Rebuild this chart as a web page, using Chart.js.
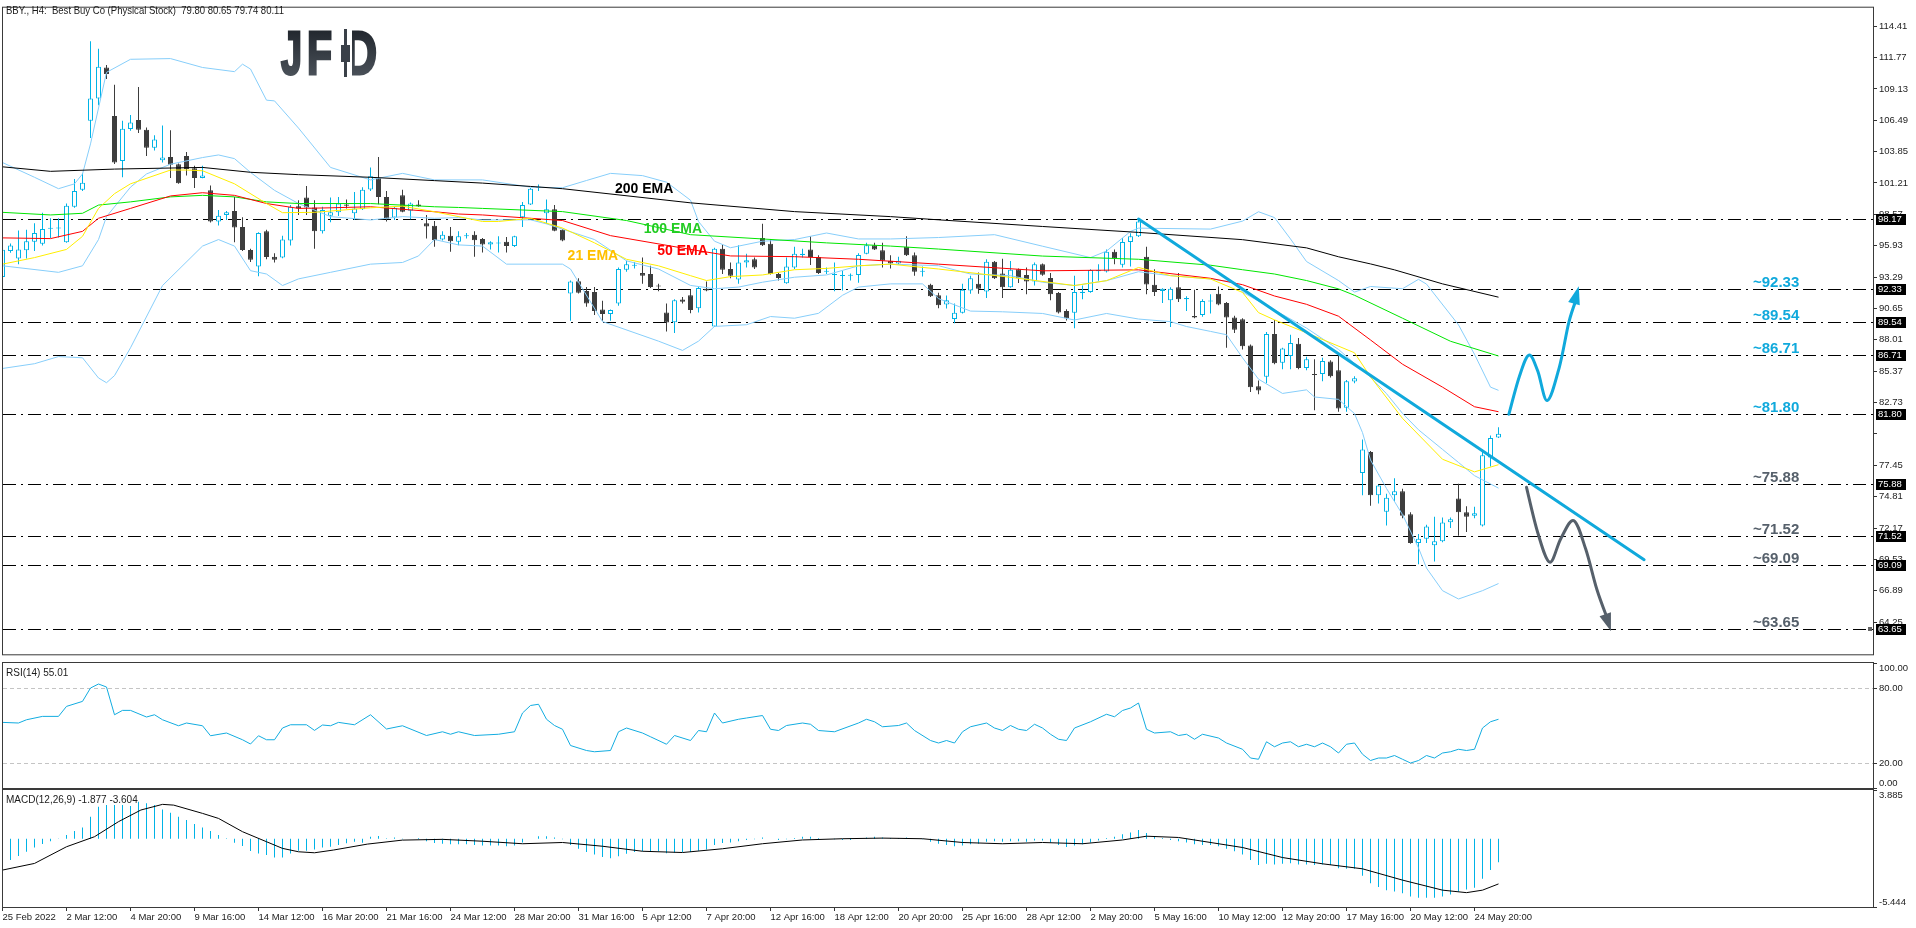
<!DOCTYPE html>
<html><head><meta charset="utf-8">
<script src="https://cdn.jsdelivr.net/npm/chart.js@4.4.1/dist/chart.umd.min.js"></script>
<style>
html,body{margin:0;padding:0;background:#fff;}
body{width:1916px;height:928px;position:relative;overflow:hidden;}
.p{position:absolute;left:0;width:1916px;}
canvas{display:block;}
</style></head><body>
<div class="p" style="top:0;height:662px"><canvas id="cMain"></canvas></div>
<div class="p" style="top:662px;height:127px"><canvas id="cRsi"></canvas></div>
<div class="p" style="top:789px;height:139px"><canvas id="cMacd"></canvas></div>
<script>
const FONT = '"Liberation Sans", Arial, sans-serif';
Chart.defaults.font.family = FONT;
Chart.defaults.animation = false;

// ---------- data ----------
const headerText = 'BBY., H4:  Best Buy Co (Physical Stock)  79.80 80.65 79.74 80.11';
const rsiTitle = 'RSI(14) 55.01';
const macdTitle = 'MACD(12,26,9) -1.877 -3.604';

const xLabels = ['25 Feb 2022','2 Mar 12:00','4 Mar 20:00','9 Mar 16:00','14 Mar 12:00','16 Mar 20:00','21 Mar 16:00','24 Mar 12:00','28 Mar 20:00','31 Mar 16:00','5 Apr 12:00','7 Apr 20:00','12 Apr 16:00','18 Apr 12:00','20 Apr 20:00','25 Apr 16:00','28 Apr 12:00','2 May 20:00','5 May 16:00','10 May 12:00','12 May 20:00','17 May 16:00','20 May 12:00','24 May 20:00'];
const xLabelBars = [0,8,16,24,32,40,48,56,64,72,80,88,96,104,112,120,128,136,144,152,160,168,176,184];

const opens = [
93.3,95.48,94.85,95.54,96.26,96.09,97.36,97.38,96.23,99.21,
100.64,106.44,108.31,110.93,106.85,103.07,105.75,106.52,105.69,104.17,
103.13,103.40,102.79,103.48,102.46,101.64,100.59,97.97,98.52,98.85,
97.50,95.57,94.19,97.14,95.01,94.93,96.37,99.26,99.98,99.15,
97.14,98.46,98.74,99.40,98.66,99.01,100.67,101.61,100.04,98.30,
100.17,98.88,99.40,97.83,97.61,96.45,96.78,96.26,96.72,96.86,
96.50,96.04,96.12,96.26,95.90,98.33,99.40,100.81,98.66,98.99,
97.28,91.90,92.95,92.12,92.03,90.57,90.19,91.07,93.91,94.24,
93.64,93.55,92.59,90.32,89.50,91.40,91.76,90.66,92.31,89.14,
95.68,93.97,93.08,94.52,94.79,96.59,96.09,93.55,92.78,94.10,
95.15,95.62,94.99,93.75,93.47,93.39,93.40,93.47,95.26,95.98,
95.54,94.66,94.44,95.84,95.13,93.75,92.64,91.76,90.98,89.77,
90.29,92.17,92.72,92.08,94.59,93.60,92.44,93.96,93.46,92.91,
94.37,93.21,91.95,90.43,90.29,91.95,92.03,93.79,93.77,95.42,
94.32,96.25,96.72,95.01,92.64,92.11,91.34,92.44,91.42,90.01,
90.10,91.23,91.89,91.12,89.88,89.74,87.53,84.11,84.91,88.50,
86.09,86.65,87.67,85.63,85.10,85.13,86.18,85.46,82.29,84.50,
76.80,78.57,74.93,73.55,74.93,75.26,73.33,70.92,71.26,70.73,
71.06,72.66,74.65,73.49,73.21,72.39,78.10,79.80];
const highs = [
95.7,96.12,97.22,97.28,97.83,98.71,98.24,98.24,99.48,101.55,
102.02,113.14,112.51,111.13,109.47,106.44,106.93,109.28,105.89,105.22,
106.05,105.64,102.85,103.82,102.66,102.66,101.00,98.93,98.85,100.04,
98.32,95.67,97.06,97.28,95.29,96.78,99.35,99.76,100.95,99.76,
99.21,99.98,100.04,99.82,100.45,100.86,102.52,103.40,100.53,99.21,
100.64,99.57,99.76,98.52,98.02,97.14,97.50,97.14,97.00,97.14,
96.59,96.31,96.73,96.67,96.78,99.62,100.78,101.09,99.82,99.35,
97.33,93.00,93.19,92.45,92.45,91.29,90.57,94.10,94.66,94.57,
94.93,94.24,92.72,91.07,91.43,91.62,92.23,92.45,92.92,95.76,
96.04,94.52,95.98,95.26,94.93,97.77,96.50,93.64,94.93,95.84,
95.68,96.73,95.13,94.10,94.52,93.83,93.60,95.29,96.17,96.17,
96.17,95.13,95.01,96.73,95.35,94.19,92.72,91.98,91.75,91.06,
92.72,93.41,93.68,94.79,94.65,94.84,94.65,94.01,94.10,94.51,
94.43,93.63,92.03,90.59,93.41,92.58,93.96,94.37,95.62,95.62,
96.58,96.99,98.24,95.84,93.96,92.36,92.44,93.63,91.67,92.22,
91.42,91.84,92.50,91.20,90.04,89.82,87.61,84.58,88.66,89.68,
87.34,88.44,88.17,86.59,86.37,86.51,86.29,86.79,84.63,84.94,
79.62,78.65,75.81,75.06,76.36,75.48,73.49,71.67,72.44,73.13,
73.05,73.05,75.89,74.01,73.96,78.79,79.95,80.65];
const lows = [
93.0,95.34,94.38,94.85,95.48,95.95,96.59,96.62,96.17,99.12,
100.53,105.00,107.76,109.97,102.80,101.69,105.61,105.42,103.48,103.95,
102.93,101.64,101.15,101.83,100.78,101.61,97.88,97.63,98.10,96.23,
95.48,94.57,93.36,94.79,94.52,94.88,95.95,98.52,98.52,95.67,
96.95,97.91,98.43,99.07,98.10,98.93,100.53,99.43,97.97,98.10,
98.74,98.16,99.21,96.53,95.84,96.37,95.43,95.98,96.53,95.01,
95.35,95.62,95.35,95.35,95.82,97.50,99.35,100.53,97.77,97.14,
96.31,89.61,91.90,90.79,90.10,89.61,89.61,90.88,93.75,94.02,
92.72,92.37,92.09,88.72,88.59,91.07,90.24,90.30,92.09,89.08,
93.55,93.19,92.72,94.10,93.97,95.90,93.50,93.00,92.72,93.97,
94.93,94.30,93.55,93.55,92.09,92.17,93.00,92.81,95.21,95.57,
94.10,94.02,94.30,95.07,93.41,93.33,91.62,90.66,90.65,89.41,
90.23,91.89,91.89,91.53,93.13,91.53,92.39,92.80,91.84,92.58,
93.41,91.34,90.23,89.63,88.99,91.42,91.97,92.99,93.68,94.37,
94.10,94.18,96.66,91.84,91.70,91.12,89.08,91.20,90.43,89.82,
89.96,90.23,90.92,87.34,88.58,87.20,83.61,83.42,84.36,85.96,
85.54,85.54,85.54,85.46,82.09,84.52,84.85,81.96,81.96,84.36,
74.93,74.04,74.24,72.39,74.43,72.99,70.84,69.13,70.92,69.35,
70.98,72.17,71.53,71.83,72.99,72.30,77.35,79.74];
const closes = [
95.6,95.95,95.62,96.31,97.00,97.33,97.44,97.46,99.29,100.53,
101.22,108.31,110.99,110.38,102.93,105.77,106.30,105.69,104.17,104.86,
103.35,102.74,101.19,102.38,101.64,101.83,97.97,98.46,98.74,97.47,
95.57,94.74,97.00,94.99,94.74,96.45,99.21,99.07,99.15,97.14,
98.93,98.74,99.48,99.29,99.07,100.64,101.77,100.04,98.19,99.12,
98.79,99.48,99.26,97.55,96.39,96.86,96.31,96.72,96.81,96.39,
96.04,96.23,96.17,95.90,96.73,99.35,100.73,100.89,98.99,97.19,
96.37,92.92,91.98,91.07,90.43,90.19,90.52,93.97,94.38,94.33,
93.41,92.45,92.50,89.47,91.35,91.21,90.52,92.37,92.17,95.68,
93.91,93.41,94.52,94.71,94.10,95.98,93.55,93.22,94.19,95.26,
95.26,94.99,93.64,93.83,93.52,93.44,93.45,95.15,95.98,95.62,
94.66,94.44,94.66,95.13,93.75,93.80,91.68,90.93,91.34,90.29,
92.22,93.19,92.30,94.59,93.19,92.44,93.90,93.19,92.91,94.37,
93.49,91.84,90.32,89.82,92.03,92.06,93.88,93.88,95.42,94.87,
96.25,96.72,97.96,92.66,92.03,92.30,92.30,91.42,91.53,89.88,
91.28,91.31,90.98,89.88,88.86,87.47,84.03,83.75,88.50,86.04,
87.28,87.75,85.63,86.37,85.05,86.23,84.94,82.23,84.52,84.77,
78.79,74.93,75.75,74.73,75.26,73.21,70.92,71.26,72.30,71.06,
72.64,72.91,73.49,73.13,73.41,78.29,79.75,80.11];

// moving averages and bands: [bar index, price]
const ema200 = [[0,102.57],[6,102.19],[14,102.38],[25,102.52],[31,102.11],[37,101.91],[46,101.69],[54,101.41],[60,101.2],[66,100.92],[70,100.73],[86,99.54],[99,98.80],[111,98.38],[117,98.11],[130,97.55],[142,97.05],[155,96.44],[163,95.75],[167,95.0],[171,94.4],[174,93.9],[180,92.72],[187,91.6]];
const ema100 = [[0,98.74],[6,98.52],[10,98.66],[12,99.35],[16,99.62],[21,100.04],[25,100.17],[29,100.04],[33,99.62],[37,99.48],[46,99.48],[54,99.21],[57,99.15],[60,99.07],[70,98.80],[78,98.05],[86,96.86],[95,96.50],[103,96.17],[111,95.90],[117,95.65],[130,95.06],[142,94.79],[151,94.29],[155,93.91],[159,93.55],[163,93.0],[167,92.3],[169,91.76],[175,89.83],[181,87.89],[187,86.65]];
const ema50 = [[0,96.59],[6,96.53],[10,97.14],[12,98.24],[16,99.07],[21,100.12],[25,100.39],[29,100.17],[33,99.48],[37,99.07],[41,99.12],[46,99.21],[54,98.79],[57,98.6],[60,98.52],[66,98.24],[70,98.05],[76,96.78],[86,95.62],[91,95.07],[99,95.01],[107,94.79],[117,94.38],[130,93.82],[142,93.90],[151,93.19],[155,92.65],[159,91.7],[163,91.0],[167,90.0],[171,88.0],[175,85.96],[180,84.03],[184,82.38],[187,81.96]];
const ema21 = [[0,94.38],[4,94.93],[8,95.62],[10,96.72],[12,99.07],[14,100.31],[16,101.14],[21,102.30],[23,102.30],[25,102.24],[29,101.14],[33,99.48],[35,98.71],[39,98.74],[46,99.12],[50,99.26],[54,98.79],[60,97.97],[62,97.97],[66,98.24],[70,97.42],[74,96.17],[78,94.79],[82,94.24],[86,93.41],[88,93.0],[91,93.33],[95,93.47],[99,93.91],[103,94.02],[107,94.24],[111,94.38],[117,93.97],[126,93.27],[134,92.58],[138,92.99],[142,94.10],[146,93.41],[151,93.13],[155,92.0],[157,90.3],[159,89.69],[163,88.6],[169,86.92],[171,84.9],[175,81.4],[180,77.96],[184,76.9],[187,77.5]];
const bbUpper = [[0,102.93],[4,101.69],[7,100.73],[9,101.14],[10,101.97],[11,104.5],[13,110.52],[16,111.62],[21,111.68],[25,110.93],[29,110.58],[30,111.21],[31,110.80],[33,108.18],[34,108.12],[37,105.83],[41,102.52],[46,101.47],[50,102.02],[54,101.47],[60,101.47],[66,100.86],[70,100.81],[73,101.42],[76,102.02],[80,101.83],[83,101.28],[86,99.76],[87,97.97],[89,96.31],[91,95.76],[95,96.31],[99,96.45],[103,97.00],[107,96.50],[111,96.50],[117,96.62],[124,96.86],[130,95.89],[136,94.93],[138,95.48],[141,97.13],[142,97.41],[151,97.33],[155,98.0],[157,98.79],[159,98.3],[161,96.5],[163,94.6],[167,93.0],[169,92.03],[171,92.5],[175,92.31],[177,93.1],[178,92.7],[182,89.27],[184,86.79],[186,84.03],[187,83.76]];
const bbMiddle = [[0,94.24],[7,93.69],[10,94.24],[12,96.45],[13,98.38],[16,100.86],[18,101.97],[21,102.79],[25,103.35],[27,103.57],[29,103.26],[31,102.10],[34,100.59],[37,99.48],[41,98.38],[46,98.10],[50,98.38],[54,98.24],[57,98.3],[60,98.10],[66,98.11],[68,97.77],[74,96.45],[78,94.66],[82,93.97],[86,92.59],[89,92.31],[92,92.45],[95,92.86],[99,93.28],[103,93.47],[107,94.24],[111,94.38],[117,94.25],[121,93.55],[126,93.41],[130,92.86],[134,92.58],[138,92.99],[142,93.74],[146,93.41],[151,93.13],[154,92.86],[155,92.03],[159,90.52],[163,89.0],[167,87.2],[171,84.86],[173,83.48],[175,81.82],[177,80.44],[180,78.79],[182,77.69],[184,76.58],[187,75.53]];
const bbLower = [[0,85.6],[4,86.0],[7,86.6],[10,86.5],[12,84.8],[13,84.4],[14,85.0],[16,87.34],[20,92.58],[25,95.90],[27,96.45],[29,95.90],[31,93.83],[33,93.55],[35,92.58],[37,93.14],[41,93.69],[46,94.38],[50,94.52],[52,95.07],[54,96.45],[57,96.0],[60,95.90],[63,94.38],[70,94.38],[71,93.97],[75,89.55],[82,87.90],[85,87.12],[87,87.90],[89,89.14],[93,89.28],[96,89.97],[99,89.83],[102,90.24],[105,91.76],[107,92.45],[111,92.72],[115,92.72],[117,91.48],[121,90.43],[125,90.37],[130,90.23],[134,89.68],[138,90.23],[142,89.76],[146,89.54],[148,89.13],[151,88.72],[153,88.44],[155,86.5],[157,84.7],[160,83.5],[163,83.8],[164,83.2],[167,83.0],[169,81.8],[170,80.2],[171,77.9],[173,75.5],[175,73.3],[177,70.5],[178,68.8],[180,66.9],[182,66.2],[185,66.9],[187,67.5]];

// RSI(14): [bar index, value]
const rsi = [[0,52.5],[2,52.0],[3,54.6],[5,57.3],[7,57.3],[8,65.3],[10,69.3],[11,80.0],[12,83.2],[13,80.8],[14,58.6],[15,62.1],[16,62.1],[18,56.8],[19,58.6],[20,54.6],[22,49.8],[23,52.0],[25,49.8],[26,41.8],[28,44.0],[30,38.6],[31,35.2],[32,41.8],[33,38.6],[34,38.6],[35,48.0],[36,50.6],[38,50.6],[39,46.1],[40,50.4],[41,49.8],[42,52.5],[44,50.6],[46,58.6],[48,47.2],[50,49.8],[53,42],[55,45],[56,43],[57,45],[59,42],[62,43],[64,45],[65,60],[66,66],[67,67],[68,55],[69,50],[70,47],[71,34],[73,30],[74,29],[76,30],[77,45],[78,48],[80,44],[81,41],[83,35],[84,42],[86,38],[87,46],[88,45],[89,60],[90,52],[92,55],[93,56],[95,58],[96,47],[97,46],[98,50],[100,52],[101,51],[102,46],[104,45],[107,52],[108,55],[109,53],[110,49],[112,50],[113,52],[114,46],[116,38],[117,36],[118,38],[119,36],[120,45],[121,49],[123,52],[124,48],[125,46],[126,50],[127,47],[128,46],[129,51],[130,48],[131,43],[132,39],[133,38],[134,48],[136,53],[138,59],[139,57],[140,62],[141,64],[142,68],[143,47],[144,44],[146,45],[147,42],[148,43],[149,39],[150,43],[152,40],[153,36],[155,31],[156,24],[157,23],[158,37],[159,33],[160,36],[161,37],[162,33],[163,35],[164,33],[165,36],[166,33],[167,28],[168,35],[169,36],[170,27],[171,22],[172,24],[173,24],[174,26],[175,23],[176,20],[177,22],[178,26],[179,24],[180,28],[181,29],[182,31],[183,30],[184,31],[185,48],[186,53],[187,55.01]];

// MACD histogram (one per bar) and signal line
const macdHist = [
-1.95,-1.70,-1.38,-1.04,-0.69,-0.43,-0.21,0.02,0.29,0.61,
0.90,1.75,2.55,2.68,2.68,2.68,2.60,2.95,2.82,2.68,
2.34,2.07,1.75,1.49,1.17,0.90,0.61,0.29,0.03,-0.32,
-0.58,-0.98,-1.17,-1.30,-1.49,-1.49,-1.17,-0.96,-0.96,-0.85,
-0.69,-0.64,-0.50,-0.37,-0.24,-0.32,0.16,0.21,0.03,0.10,
-0.05,0.0,0.05,-0.2,-0.35,-0.4,-0.45,-0.45,-0.45,-0.5,
-0.55,-0.55,-0.55,-0.6,-0.55,-0.3,0.0,0.2,0.2,0.1,
-0.05,-0.5,-0.8,-1.05,-1.25,-1.45,-1.55,-1.4,-1.2,-1.05,
-1.0,-1.0,-1.0,-1.15,-1.1,-1.05,-1.05,-0.95,-0.85,-0.5,
-0.35,-0.3,-0.2,-0.1,-0.05,0.1,0.0,-0.1,-0.05,0.05,
0.15,0.15,0.05,0.0,-0.05,-0.1,-0.1,0.0,0.1,0.15,
0.1,0.05,0.05,0.1,0.0,-0.05,-0.25,-0.4,-0.5,-0.6,
-0.55,-0.45,-0.4,-0.25,-0.2,-0.25,-0.2,-0.2,-0.25,-0.15,
-0.15,-0.3,-0.5,-0.65,-0.55,-0.45,-0.3,-0.15,0.05,0.15,
0.35,0.5,0.7,0.45,0.2,0.05,-0.1,-0.2,-0.3,-0.45,
-0.5,-0.5,-0.6,-0.8,-1.0,-1.25,-1.7,-2.1,-2.0,-2.05,
-2.0,-1.95,-2.05,-2.05,-2.1,-2.05,-2.1,-2.35,-2.4,-2.4,
-2.95,-3.55,-3.85,-4.1,-4.2,-4.35,-4.6,-4.7,-4.7,-4.7,
-4.6,-4.45,-4.2,-4.05,-3.9,-3.2,-2.5,-1.877];
const macdSignal = [[0,-2.50],[4,-1.97],[8,-0.64],[11.5,0.16],[14.5,1.36],[17.3,2.29],[20,2.74],[21.4,2.68],[25,2.02],[27,1.62],[30,0.56],[33,-0.24],[35,-0.77],[37,-1.04],[39,-1.12],[41.4,-0.90],[45.6,-0.43],[50,-0.11],[55,-0.05],[60,-0.2],[65,-0.4],[70,-0.3],[75,-0.6],[80,-1.0],[85,-1.1],[90,-0.8],[95,-0.4],[100,-0.1],[105,0.0],[110,0.05],[115,0.0],[120,-0.3],[125,-0.4],[130,-0.3],[135,-0.4],[140,-0.1],[143,0.2],[147,0.1],[150,-0.2],[155,-0.7],[160,-1.5],[165,-2.0],[170,-2.4],[175,-3.3],[180,-4.1],[183,-4.3],[185,-4.1],[187,-3.604]];

// right axis
const priceTicks = [114.41,111.77,109.13,106.49,103.85,101.21,98.57,95.93,93.29,90.65,88.01,85.37,82.73,80.09,77.45,74.81,72.17,69.53,66.89,64.25];
const priceTickLabels = ['114.41','111.77','109.13','106.49','103.85','101.21','98.57','95.93','93.29','90.65','88.01','85.37','82.73','','77.45','74.81','72.17','69.53','66.89','64.25'];
const levelLines = [98.17,92.33,89.54,86.71,81.80,75.88,71.52,69.09,63.65];
const levelNoteVals = [92.33,89.54,86.71,81.80,75.88,71.52,69.09,63.65];
const levelNoteText = ['~92.33','~89.54','~86.71','~81.80','~75.88','~71.52','~69.09','~63.65'];
const levelNoteBar = 221.7;

const emaNoteText = ['200 EMA','100 EMA','50 EMA','21 EMA'];
const emaNotePos = [[80.2,100.69],[83.8,97.30],[85.0,95.48],[73.8,95.07]];

// drawn analysis: trend line and scenario arrows [bar index, price]
const trendLine = [[142,98.17],[205.2,69.51]];
const upPath = [[188.3,81.75],[189.6,84.9],[190.8,86.72],[191.9,85.4],[193.1,82.9],[194.6,85.7],[195.8,89.5],[196.9,92.2]];
const downPath = [[190.5,75.6],[191.9,71.8],[193.4,69.3],[194.8,71.3],[196.4,72.8],[197.9,70.4],[199.3,67.0],[200.9,63.8]];

const rsiLevels = [80,20];
const rsiAxis = [['100.00',100,5],['80.00',80,0],['20.00',20,0],['0.00',0,-5]];
const macdAxis = [['3.885',3.885,5],['-5.444',-5.444,-5]];

// ---------- styling ----------
const CYAN = '#00B3E6';
const BEAR = '#3d3d3d';
const BB = '#87CEFA';
const NOTE_CYAN = '#10A9DC';
const NOTE_GREY = '#56606b';
const FRAME = '#3a3a3a';
const TXT = 9.5;
const XMIN = 0.0625, XMAX = 233.8125;
const bars = opens.map((_, i) => i);
const pts = a => a.map(([x, y]) => ({x, y}));
const isBull = i => closes[i] >= opens[i];

function frame(ch){
  const a = ch.chartArea, c = ch.ctx;
  c.save(); c.strokeStyle = FRAME; c.lineWidth = 1;
  c.strokeRect(a.left - 0.5, a.top - 0.5, a.right - a.left + 1, a.bottom - a.top + 1);
  c.restore();
}
function smooth(c, p){
  c.moveTo(p[0][0], p[0][1]);
  for (let k = 0; k < p.length - 1; k++){
    const p0 = p[k-1] || p[k], p1 = p[k], p2 = p[k+1], p3 = p[k+2] || p2;
    c.bezierCurveTo(p1[0] + (p2[0]-p0[0])/6, p1[1] + (p2[1]-p0[1])/6, p2[0] - (p3[0]-p1[0])/6, p2[1] - (p3[1]-p1[1])/6, p2[0], p2[1]);
  }
}
function arrowHead(c, from, to, color){
  const ang = Math.atan2(to[1]-from[1], to[0]-from[0]);
  const L = 14, W = 6;
  c.save(); c.fillStyle = color; c.beginPath();
  c.moveTo(to[0] + Math.cos(ang)*4, to[1] + Math.sin(ang)*4);
  c.lineTo(to[0] - Math.cos(ang)*L + Math.sin(ang)*W, to[1] - Math.sin(ang)*L - Math.cos(ang)*W);
  c.lineTo(to[0] - Math.cos(ang)*L - Math.sin(ang)*W, to[1] - Math.sin(ang)*L + Math.cos(ang)*W);
  c.closePath(); c.fill(); c.restore();
}

const mainDeco = {
  id: 'mainDeco',
  beforeDatasetsDraw(ch){
    const c = ch.ctx, a = ch.chartArea, y = ch.scales.y;
    // logo
    c.save();
    const g = c.createLinearGradient(0, 30, 0, 76);
    g.addColorStop(0, '#22272e'); g.addColorStop(1, '#4a5159');
    c.fillStyle = g; c.strokeStyle = g; c.lineWidth = 3; c.lineJoin = 'miter';
    c.font = 'bold 62px ' + FONT; c.textBaseline = 'alphabetic';
    [['J', 281, 74, 21], ['F', 307, 74, 25], ['D', 344, 74, 33]].forEach(([t, x, yy, w]) => { c.fillText(t, x, yy, w); c.strokeText(t, x, yy, w); });
    c.fillStyle = '#fff'; c.fillRect(340, 26, 12, 54);
    c.fillStyle = '#3a4048'; c.fillRect(344, 29, 3, 48); c.fillRect(341, 45, 9, 17);
    c.restore();
    // horizontal levels
    c.save(); c.strokeStyle = '#000'; c.lineWidth = 1; c.setLineDash([13,5,2,5]);
    levelLines.forEach(v => {
      const py = Math.round(y.getPixelForValue(v)) + 0.5;
      c.beginPath(); c.moveTo(a.left, py); c.lineTo(a.right, py); c.stroke();
    });
    c.restore();
  },
  afterDatasetsDraw(ch){
    const c = ch.ctx, a = ch.chartArea, X = ch.scales.x, Y = ch.scales.y;
    const P = ([i, v]) => [X.getPixelForValue(i), Y.getPixelForValue(v)];
    c.save();
    c.beginPath(); c.rect(a.left, a.top, a.right - a.left, a.bottom - a.top); c.clip();
    // trend line
    c.strokeStyle = NOTE_CYAN; c.lineWidth = 3; c.lineCap = 'round';
    const t0 = P(trendLine[0]), t1 = P(trendLine[1]);
    c.beginPath(); c.moveTo(t0[0], t0[1]); c.lineTo(t1[0], t1[1]); c.stroke();
    // scenario arrows
    const up = upPath.map(P), dn = downPath.map(P);
    c.lineWidth = 3;
    c.strokeStyle = NOTE_CYAN; c.beginPath(); smooth(c, up.slice(0, -1).concat([[up[up.length-1][0]-1, up[up.length-1][1]+8]])); c.stroke();
    arrowHead(c, up[up.length-2], up[up.length-1], NOTE_CYAN);
    c.strokeStyle = NOTE_GREY; c.beginPath(); smooth(c, dn.slice(0, -1).concat([[dn[dn.length-1][0]-2, dn[dn.length-1][1]-8]])); c.stroke();
    arrowHead(c, dn[dn.length-2], dn[dn.length-1], NOTE_GREY);
    // EMA notes
    c.font = 'bold 14px ' + FONT; c.textAlign = 'center'; c.textBaseline = 'middle';
    const emaCols = ['#000000', '#22cc22', '#ff0000', '#ffc000'];
    emaNoteText.forEach((t, k) => { const p = P(emaNotePos[k]); c.fillStyle = emaCols[k]; c.fillText(t, p[0], p[1]); });
    // level notes
    c.font = 'bold 15px ' + FONT; c.textBaseline = 'alphabetic';
    levelNoteText.forEach((t, k) => {
      const p = P([levelNoteBar, levelNoteVals[k]]);
      c.fillStyle = k < 4 ? NOTE_CYAN : NOTE_GREY;
      c.fillText(t, p[0], Math.round(p[1]) - 2);
    });
    c.restore();
  },
  afterDraw(ch){
    const c = ch.ctx, Y = ch.scales.y;
    frame(ch);
    c.save();
    c.font = TXT + 'px ' + FONT; c.textBaseline = 'middle'; c.textAlign = 'left';
    levelLines.forEach(v => {
      const py = Math.round(Y.getPixelForValue(v));
      c.fillStyle = '#000'; c.fillRect(1876, py - 5, 30, 11);
      c.fillStyle = '#fff'; c.fillText(v.toFixed(2), 1878, py + 0.5);
    });
    const last = Math.round(Y.getPixelForValue(levelLines[levelLines.length - 1]));
    c.fillStyle = '#666'; c.fillRect(1868, last - 2, 4, 4);
    c.fillStyle = '#1a1a1a'; c.font = '10.5px ' + FONT;
    c.fillText(headerText, 6, 11, 278);
    c.restore();
  }
};

const xHidden = {type: 'linear', min: XMIN, max: XMAX, display: false, offset: false};
const rightAxis = (min, max) => ({
  position: 'right', min, max,
  afterFit: s => { s.width = 43; },
  ticks: {display: false}, grid: {display: false}, border: {display: false}
});

const common = {
  responsive: true, maintainAspectRatio: false, animation: false, events: [],
  devicePixelRatio: 1,
  plugins: {legend: {display: false}, tooltip: {enabled: false}}
};
const line = (data, color, order) => ({type: 'line', data: pts(data), borderColor: color, borderWidth: 1, pointRadius: 0, fill: false, tension: 0, order});

new Chart(document.getElementById('cMain'), {
  type: 'bar',
  data: {datasets: [
    {type: 'bar', data: bars.map(i => ({x: i, y: [lows[i], highs[i]]})), backgroundColor: bars.map(i => isBull(i) ? CYAN : BEAR),
     grouped: false, categoryPercentage: 1, barPercentage: 0.125, maxBarThickness: 1, order: 10},
    {type: 'bar', data: bars.map(i => ({x: i, y: [opens[i], closes[i]]})), backgroundColor: bars.map(i => isBull(i) ? '#ffffff' : BEAR),
     borderColor: bars.map(i => isBull(i) ? CYAN : BEAR), borderWidth: 1, borderSkipped: false, minBarLength: 1,
     grouped: false, categoryPercentage: 1, barPercentage: 0.625, maxBarThickness: 5, order: 9},
    line(bbUpper, BB, 8), line(bbMiddle, BB, 8), line(bbLower, BB, 8),
    line(ema200, '#000000', 4), line(ema100, '#00e600', 3), line(ema50, '#ff0000', 2), line(ema21, '#ffee00', 1)
  ]},
  options: Object.assign({}, common, {
    layout: {padding: {left: 3, top: 2, right: 0, bottom: 1}},
    scales: {
      x: xHidden,
      y: {
        position: 'right', min: 61.545, max: 115.962,
        afterBuildTicks: s => { s.ticks = priceTicks.map(v => ({value: v})); },
        afterFit: s => { s.width = 43; },
        ticks: {autoSkip: false, padding: 2, color: '#222', font: {size: TXT}, callback: (v, k) => priceTickLabels[k]},
        grid: {drawOnChartArea: false, drawTicks: true, tickLength: 4, color: '#333'},
        border: {display: false}
      }
    }
  }),
  plugins: [mainDeco]
});

function sideAxisPlugin(id, items, title, extra){
  return {
    id,
    beforeDatasetsDraw(ch){ if (extra) extra(ch); },
    afterDraw(ch){
      const c = ch.ctx, a = ch.chartArea, Y = ch.scales.y;
      frame(ch);
      c.save(); c.font = TXT + 'px ' + FONT; c.textBaseline = 'middle'; c.textAlign = 'left'; c.fillStyle = '#222';
      c.strokeStyle = '#333'; c.lineWidth = 1;
      items.forEach(([t, v, off]) => {
        const py = Math.round(Y.getPixelForValue(v));
        c.beginPath(); c.moveTo(a.right, py + 0.5); c.lineTo(a.right + 4, py + 0.5); c.stroke();
        c.fillText(t, a.right + 6, py + off);
      });
      c.fillStyle = '#1a1a1a'; c.font = '10px ' + FONT;
      c.fillText(title, 6, a.top + 10);
      c.restore();
    }
  };
}

new Chart(document.getElementById('cRsi'), {
  type: 'line',
  data: {datasets: [line(rsi, '#12ACE0', 1)]},
  options: Object.assign({}, common, {
    layout: {padding: {left: 3, top: 1, right: 0, bottom: 1}},
    scales: {x: xHidden, y: rightAxis(0, 100)}
  }),
  plugins: [sideAxisPlugin('rsiDeco', rsiAxis, rsiTitle, ch => {
    const c = ch.ctx, a = ch.chartArea, Y = ch.scales.y;
    c.save(); c.strokeStyle = '#c4c4c4'; c.lineWidth = 1; c.setLineDash([4, 3]);
    rsiLevels.forEach(v => { const py = Math.round(Y.getPixelForValue(v)) + 0.5; c.beginPath(); c.moveTo(a.left, py); c.lineTo(a.right, py); c.stroke(); });
    c.restore();
  })]
});

new Chart(document.getElementById('cMacd'), {
  type: 'bar',
  data: {datasets: [
    {type: 'bar', data: bars.map(i => ({x: i, y: macdHist[i]})), backgroundColor: CYAN,
     grouped: false, categoryPercentage: 1, barPercentage: 0.125, maxBarThickness: 1, order: 2},
    line(macdSignal, '#000000', 1)
  ]},
  options: Object.assign({}, common, {
    layout: {padding: {left: 3, top: 1, right: 0, bottom: 0}},
    scales: {
      x: {
        type: 'linear', min: XMIN, max: XMAX, offset: false, position: 'bottom',
        afterBuildTicks: s => { s.ticks = xLabelBars.map(v => ({value: v})); },
        afterFit: s => { s.height = 21; },
        ticks: {autoSkip: false, maxRotation: 0, minRotation: 0, align: 'start', padding: 1, color: '#222', font: {size: TXT},
                callback: (v, k) => xLabels[k]},
        grid: {drawOnChartArea: false, drawTicks: true, tickLength: 4, color: '#333', offset: false},
        border: {display: false}
      },
      y: rightAxis(-5.444, 3.885)
    }
  }),
  plugins: [sideAxisPlugin('macdDeco', macdAxis, macdTitle)]
});
</script></body></html>
